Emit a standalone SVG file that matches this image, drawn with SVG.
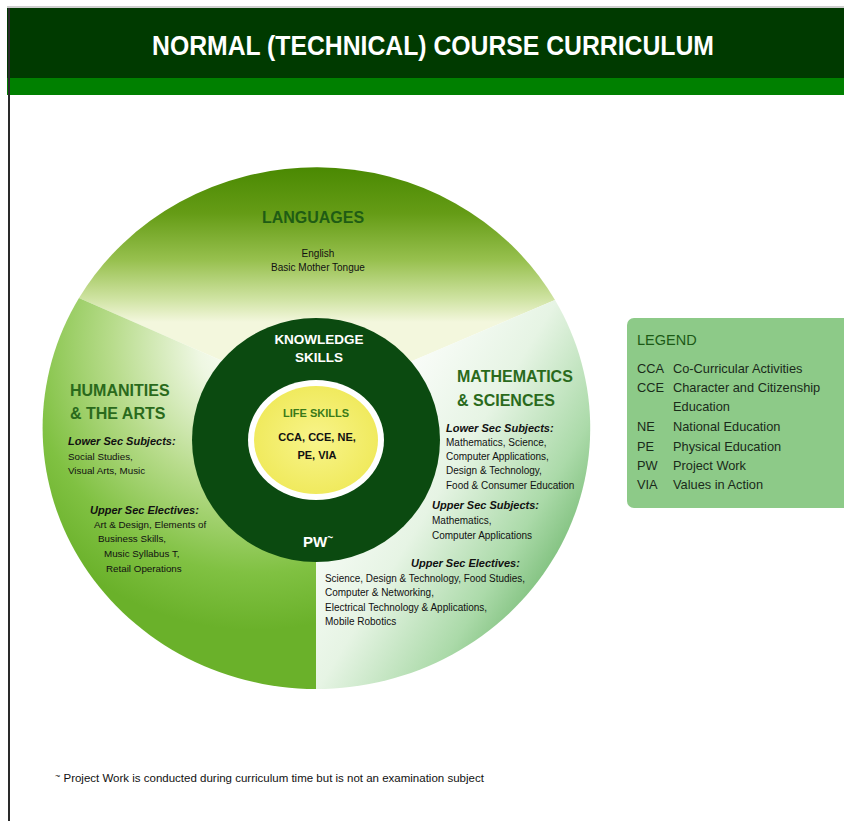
<svg xmlns="http://www.w3.org/2000/svg" width="844" height="821" viewBox="0 0 844 821">
<style>
text{font-family:"Liberation Sans",Arial,sans-serif}
.head{font-size:16px;font-weight:bold;fill:#2a6a1c}
.sub{font-size:11px;font-weight:bold;font-style:italic;fill:#111}
.sm{font-size:10px;fill:#111}
.hs{font-size:9.8px;fill:#111}
.lg{font-size:12.8px;fill:#1a2a1a}
.wb{font-weight:bold;fill:#ffffff}
</style>
<defs>
<linearGradient id="gLang" gradientUnits="userSpaceOnUse" x1="0" y1="167" x2="0" y2="322">
<stop offset="0" stop-color="#4a8902"/>
<stop offset="0.3" stop-color="#659c16"/>
<stop offset="0.6" stop-color="#97c04e"/>
<stop offset="0.85" stop-color="#cfe3a2"/>
<stop offset="1" stop-color="#f3f7dd"/>
</linearGradient>
<radialGradient id="gHum" gradientUnits="userSpaceOnUse" cx="255" cy="345" r="285">
<stop offset="0" stop-color="#ffffff"/>
<stop offset="0.2" stop-color="#eef7e2"/>
<stop offset="0.5" stop-color="#b8dc8c"/>
<stop offset="0.8" stop-color="#80c142"/>
<stop offset="1" stop-color="#6ab12a"/>
</radialGradient>
<linearGradient id="gMath" gradientUnits="userSpaceOnUse" x1="340" y1="420" x2="600" y2="580">
<stop offset="0" stop-color="#ffffff"/>
<stop offset="0.4" stop-color="#e6f4e4"/>
<stop offset="0.7" stop-color="#abdaa9"/>
<stop offset="1" stop-color="#58a956"/>
</linearGradient>
<radialGradient id="gYel" cx="0.5" cy="0.5" r="0.5">
<stop offset="0" stop-color="#f8f48a"/>
<stop offset="1" stop-color="#f0ea5e"/>
</radialGradient>
</defs>
<rect width="844" height="821" fill="#ffffff"/>
<g id="header">
<rect x="7" y="6" width="837" height="2" fill="#cfcfcf"/>
<rect x="7" y="8" width="837" height="70" fill="#003a00"/>
<rect x="7" y="78" width="837" height="17" fill="#008000"/>
<rect x="8" y="8" width="2" height="813" fill="#2a2a2a"/>
<text x="433" y="55" text-anchor="middle" font-size="27" class="wb" textLength="562" lengthAdjust="spacingAndGlyphs">NORMAL (TECHNICAL) COURSE CURRICULUM</text>
</g>
<g id="sector-languages">
<path d="M316 402 L79 298 A274 261 0 0 1 555 300 Z" fill="url(#gLang)"/>
<text x="313" y="223" text-anchor="middle" class="head" style="fill:#1f5c14">LANGUAGES</text>
<text x="318" y="257" text-anchor="middle" class="sm">English</text>
<text x="318" y="271" text-anchor="middle" class="sm">Basic Mother Tongue</text>
</g>
<g id="sector-humanities">
<path d="M316 402 L316 689 A274 261 0 0 1 79 298 Z" fill="url(#gHum)"/>
<text x="70" y="396" class="head">HUMANITIES</text>
<text x="70" y="419" class="head">&amp; THE ARTS</text>
<text x="68" y="445" class="sub">Lower Sec Subjects:</text>
<text x="68" y="460" class="hs">Social Studies,</text>
<text x="68" y="474" class="hs">Visual Arts, Music</text>
<text x="90" y="514" class="sub">Upper Sec Electives:</text>
<text x="94" y="528" class="hs">Art &amp; Design, Elements of</text>
<text x="98" y="542" class="hs">Business Skills,</text>
<text x="104" y="557" class="hs">Music Syllabus T,</text>
<text x="106" y="572" class="hs">Retail Operations</text>
</g>
<g id="sector-math">
<path d="M316 402 L555 300 A274 261 0 0 1 316 689 Z" fill="url(#gMath)"/>
<text x="457" y="382" class="head">MATHEMATICS</text>
<text x="457" y="406" class="head">&amp; SCIENCES</text>
<text x="446" y="432" class="sub">Lower Sec Subjects:</text>
<text x="446" y="446" class="sm">Mathematics, Science,</text>
<text x="446" y="460" class="sm">Computer Applications,</text>
<text x="446" y="474" class="sm">Design &amp; Technology,</text>
<text x="446" y="489" class="sm">Food &amp; Consumer Education</text>
<text x="432" y="509" class="sub">Upper Sec Subjects:</text>
<text x="432" y="524" class="sm">Mathematics,</text>
<text x="432" y="539" class="sm">Computer Applications</text>
<text x="411" y="567" class="sub">Upper Sec Electives:</text>
<text x="325" y="582" class="sm" textLength="200" lengthAdjust="spacingAndGlyphs">Science, Design &amp; Technology, Food Studies,</text>
<text x="325" y="596" class="sm">Computer &amp; Networking,</text>
<text x="325" y="611" class="sm">Electrical Technology &amp; Applications,</text>
<text x="325" y="625" class="sm">Mobile Robotics</text>
</g>
<g id="core-knowledge">
<ellipse cx="316" cy="440" rx="124" ry="122" fill="#0b4a10"/>
<text x="319" y="344" text-anchor="middle" font-size="13.5" class="wb">KNOWLEDGE</text>
<text x="319" y="362" text-anchor="middle" font-size="13.5" class="wb">SKILLS</text>
<text x="318" y="547" text-anchor="middle" font-size="15" class="wb">PW<tspan font-size="10" dy="-6">~</tspan></text>
</g>
<g id="core-life">
<ellipse cx="316" cy="440" rx="68" ry="60" fill="#ffffff"/>
<ellipse cx="316" cy="440" rx="62" ry="54" fill="url(#gYel)"/>
<text x="316" y="417" text-anchor="middle" font-size="11" font-weight="bold" fill="#3a7a18">LIFE SKILLS</text>
<text x="317" y="441" text-anchor="middle" font-size="11" font-weight="bold" fill="#111">CCA, CCE, NE,</text>
<text x="317" y="459" text-anchor="middle" font-size="11" font-weight="bold" fill="#111">PE, VIA</text>
</g>
<g id="legend">
<rect x="627" y="318" width="230" height="190" rx="7" fill="#8dca88"/>
<text x="637" y="345" font-size="14.5" fill="#1c5a16">LEGEND</text>
<text x="637" y="373" class="lg">CCA</text><text x="673" y="373" class="lg">Co-Curricular Activities</text>
<text x="637" y="392" class="lg">CCE</text><text x="673" y="392" class="lg">Character and Citizenship</text>
<text x="673" y="411" class="lg">Education</text>
<text x="637" y="431" class="lg">NE</text><text x="673" y="431" class="lg">National Education</text>
<text x="637" y="451" class="lg">PE</text><text x="673" y="451" class="lg">Physical Education</text>
<text x="637" y="470" class="lg">PW</text><text x="673" y="470" class="lg">Project Work</text>
<text x="637" y="489" class="lg">VIA</text><text x="673" y="489" class="lg">Values in Action</text>
</g>
<g id="footnote">
<text x="55" y="782" font-size="11.5" fill="#111"><tspan font-size="9" dy="-3">~</tspan><tspan dy="3"> Project Work is conducted during curriculum time but is not an examination subject</tspan></text>
</g>
</svg>
